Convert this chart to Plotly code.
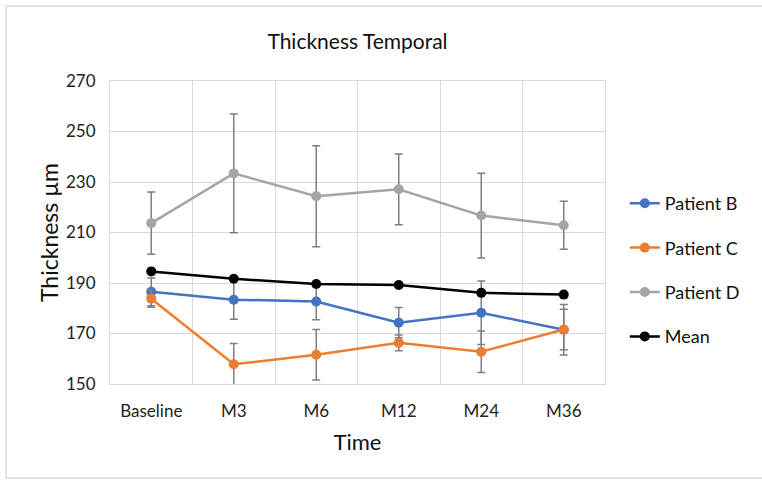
import plotly.graph_objects as go

categories = ["Baseline", "M3", "M6", "M12", "M24", "M36"]

patient_b = [186.5, 183.4, 182.7, 174.3, 178.2, 171.5]
patient_b_err = [5.5, 7.8, 7.3, 6.0, 12.6, 10.0]

patient_c = [183.8, 157.8, 161.6, 166.3, 162.8, 171.6]
patient_c_err = [3.4, 8.2, 10.0, 3.1, 8.2, 8.0]

patient_d = [213.7, 233.4, 224.4, 227.1, 216.7, 212.9]
patient_d_err = [12.3, 23.5, 20.0, 14.0, 16.8, 9.5]

mean_vals = [194.6, 191.7, 189.6, 189.2, 186.1, 185.4]

y_ticks = [150, 170, 190, 210, 230, 250, 270]

FONT = "Lato, 'Open Sans', sans-serif"
ERR_COLOR = "#7f7f7f"

fig = go.Figure()

def add_series(name, vals, color, err=None, group="g"):
    kw = {}
    if err is not None:
        kw["error_y"] = dict(type="data", array=err, visible=True,
                             color=ERR_COLOR, thickness=1.5, width=4)
    fig.add_trace(go.Scatter(
        x=categories, y=vals, name=name, mode="lines+markers",
        line=dict(color=color, width=2.5),
        marker=dict(color=color, size=10),
        legendgroup=group,
        **kw))

add_series("Patient B", patient_b, "#4472C4", patient_b_err, "b")
add_series("Patient C", patient_c, "#ED7D31", patient_c_err, "c")
add_series("Patient D", patient_d, "#A5A5A5", patient_d_err, "d")
add_series("Mean", mean_vals, "#000000", None, "m")

fig.update_layout(
    width=762, height=481,
    margin=dict(l=110, r=157, t=81, b=97),
    paper_bgcolor="white", plot_bgcolor="white",
    font=dict(family=FONT, color="#222222"),
    title=dict(text="Thickness Temporal", x=(110 + 605) / 2 / 762, xanchor="center",
               y=1 - 42 / 481, yanchor="middle",
               font=dict(size=21, color="#111111", family=FONT)),
    showlegend=True,
    legend=dict(x=1.04, y=(384 - 185) / 303, xanchor="left", yanchor="top",
                font=dict(size=18, color="#111111", family=FONT),
                tracegroupgap=18, bgcolor="rgba(0,0,0,0)"),
    xaxis=dict(
        type="category", showgrid=True, gridcolor="#d9d9d9", gridwidth=1,
        showline=True, linecolor="#d9d9d9", linewidth=1, mirror=True,
        tickfont=dict(size=17, color="#222222"), ticks="", ticklabelstandoff=12,
        title=dict(text="Time", font=dict(size=22, color="#111111"), standoff=14),
        range=[-0.5, 5.5], tickson="boundaries",
    ),
    yaxis=dict(
        range=[150, 270], tickvals=y_ticks, showgrid=True, gridcolor="#d9d9d9",
        gridwidth=1, showline=True, linecolor="#d9d9d9", linewidth=1, mirror=True,
        tickfont=dict(size=17, color="#222222"), ticks="", zeroline=False,
        ticklabelstandoff=10,
        title=dict(text="Thickness µm", font=dict(size=23, color="#111111"), standoff=0),
    ),
)

# outer chart border (top, left, bottom)
bx0 = (6 - 110) / 495
bx1 = (900 - 110) / 495
by0 = (384 - 478) / 303
by1 = (384 - 6) / 303
for (x0, y0, x1, y1) in [(bx0, by1, bx1, by1), (bx0, by0, bx0, by1), (bx0, by0, bx1, by0)]:
    fig.add_shape(type="line", xref="paper", yref="paper", x0=x0, y0=y0, x1=x1, y1=y1,
                  line=dict(color="#d9d9d9", width=1.5), layer="below")

fig.write_html("out.html")
